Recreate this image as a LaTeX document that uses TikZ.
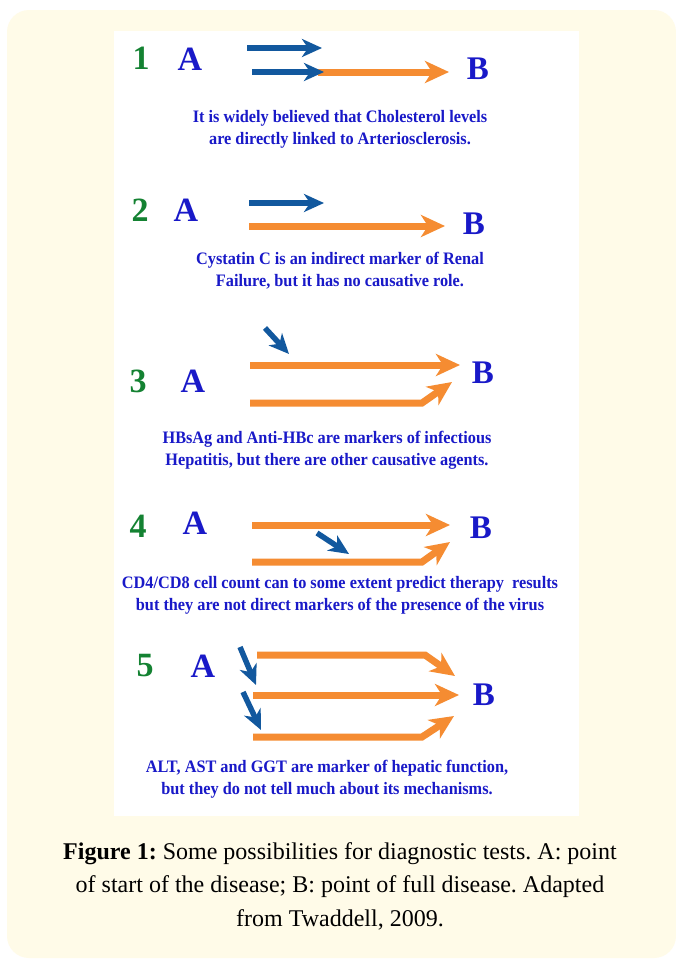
\documentclass[tikz,border=0pt]{standalone}
\usepackage{fontspec}
\setmainfont{Liberation Serif}
\newfontfamily\diafont[FakeStretch=0.93]{Liberation Serif}
\usetikzlibrary{arrows.meta}
\definecolor{cream}{RGB}{255,251,232}
\definecolor{arrorange}{RGB}{245,140,50}
\definecolor{arrblue}{RGB}{18,88,158}
\definecolor{txtblue}{RGB}{25,25,200}
\definecolor{numgreen}{RGB}{20,130,50}
\frenchspacing
\begin{document}
\begin{tikzpicture}[x=1pt,y=-1pt,
  orangearrow/.style={draw=arrorange, line width=7pt, -{Stealth[length=24pt,width=22pt,inset=7pt]}},
  bluearrow/.style={draw=arrblue, line width=5.5pt, -{Stealth[length=20pt,width=18pt,inset=6pt]}},
  num/.style={inner sep=0pt, text=numgreen, font=\fontsize{34}{34}\selectfont\bfseries},
  ptA/.style={inner sep=0pt, text=txtblue, font=\fontsize{34}{34}\selectfont\bfseries},
  ptB/.style={inner sep=0pt, text=txtblue, font=\fontsize{33}{33}\selectfont\bfseries},
  note/.style={inner sep=0pt, text=txtblue, font=\diafont\fontsize{17.5}{22}\selectfont\bfseries, align=center},
  captext/.style={inner sep=0pt, text=black, font=\fontsize{24}{33.5}\selectfont, align=center}
]
\useasboundingbox (0,0) rectangle (676,959);
\fill[white] (0,0) rectangle (676,959);
\fill[cream, rounded corners=22pt] (7,10) rectangle (676,958);
\fill[white] (114,31) rectangle (579,816);

% ---- Panel 1 ----
\node[num] (n1) at (141,58) {1};
\node[ptA] (a1) at (190,59) {A};
\node[ptB] (b1) at (478,69) {B};
\coordinate (p1s1) at (247,48);
\coordinate (p1e1) at (322,48);
\coordinate (p1s2) at (252,72);
\coordinate (p1m2) at (318,72);
\coordinate (p1e2) at (449,72);
\draw[orangearrow] (p1m2) -- (p1e2);
\draw[bluearrow] (p1s1) -- (p1e1);
\draw[bluearrow] (p1s2) -- (p1m2 -| 324,0);
\node[note] (t1) at (340,129) {It is widely believed that Cholesterol levels\\are directly linked to Arteriosclerosis.};

% ---- Panel 2 ----
\node[num] (n2) at (140,210) {2};
\node[ptA] (a2) at (186,210) {A};
\node[ptB] (b2) at (474,224) {B};
\coordinate (p2s1) at (249,203);
\coordinate (p2e1) at (324,203);
\coordinate (p2s2) at (249,226);
\coordinate (p2e2) at (445,226);
\draw[bluearrow] (p2s1) -- (p2e1);
\draw[orangearrow] (p2s2) -- (p2e2);
\node[note] (t2) at (340,271) {Cystatin C is an indirect marker of Renal\\Failure, but it has no causative role.};

% ---- Panel 3 ----
\node[num] (n3) at (138,381) {3};
\node[ptA] (a3) at (193,381) {A};
\node[ptB] (b3) at (483,373) {B};
\coordinate (p3bs) at (265,328);
\coordinate (p3be) at (289,354);
\coordinate (p3s1) at (250,365);
\coordinate (p3e1) at (460,365);
\coordinate (p3s2) at (250,403);
\coordinate (p3k2) at (422,403);
\coordinate (p3e2) at (452,382);
\draw[bluearrow] (p3bs) -- (p3be);
\draw[orangearrow] (p3s1) -- (p3e1);
\draw[orangearrow] (p3s2) -- (p3k2) -- (p3e2);
\node[note] (t3) at (327,450) {HBsAg and Anti-HBc are markers of infectious\\Hepatitis, but there are other causative agents.};

% ---- Panel 4 ----
\node[num] (n4) at (138,526) {4};
\node[ptA] (a4) at (195,523) {A};
\node[ptB] (b4) at (481,528) {B};
\coordinate (p4s1) at (252,525);
\coordinate (p4e1) at (450,525);
\coordinate (p4s2) at (252,562);
\coordinate (p4k2) at (422,562);
\coordinate (p4e2) at (450,542);
\coordinate (p4bs) at (317,533);
\coordinate (p4be) at (349,554);
\draw[orangearrow] (p4s1) -- (p4e1);
\draw[orangearrow] (p4s2) -- (p4k2) -- (p4e2);
\draw[bluearrow] (p4bs) -- (p4be);
\node[note] (t4) at (340,595) {CD4/CD8 cell count can to some extent predict therapy \ results\\but they are not direct markers of the presence of the virus};

% ---- Panel 5 ----
\node[num] (n5) at (145,666) {5};
\node[ptA] (a5) at (203,666) {A};
\node[ptB] (b5) at (484,695) {B};
\coordinate (p5s1) at (257,655);
\coordinate (p5k1) at (425,655);
\coordinate (p5e1) at (455,676);
\coordinate (p5s2) at (253,695);
\coordinate (p5e2) at (459,695);
\coordinate (p5s3) at (253,737);
\coordinate (p5k3) at (422,737);
\coordinate (p5e3) at (454,716);
\coordinate (p5b1s) at (240,647);
\coordinate (p5b1e) at (256,685);
\coordinate (p5b2s) at (243,692);
\coordinate (p5b2e) at (261,730);
\draw[orangearrow] (p5s1) -- (p5k1) -- (p5e1);
\draw[orangearrow] (p5s2) -- (p5e2);
\draw[orangearrow] (p5s3) -- (p5k3) -- (p5e3);
\draw[bluearrow] (p5b1s) -- (p5b1e);
\draw[bluearrow] (p5b2s) -- (p5b2e);
\node[note] (t5) at (327,779) {ALT, AST and GGT are marker of hepatic function,\\but they do not tell much about its mechanisms.};

% ---- Caption ----
\node[captext] (cap) at (340,886) {\textbf{Figure 1:} Some possibilities for diagnostic tests. A: point\\of start of the disease; B: point of full disease. Adapted\\from Twaddell, 2009.};
\end{tikzpicture}
\end{document}
